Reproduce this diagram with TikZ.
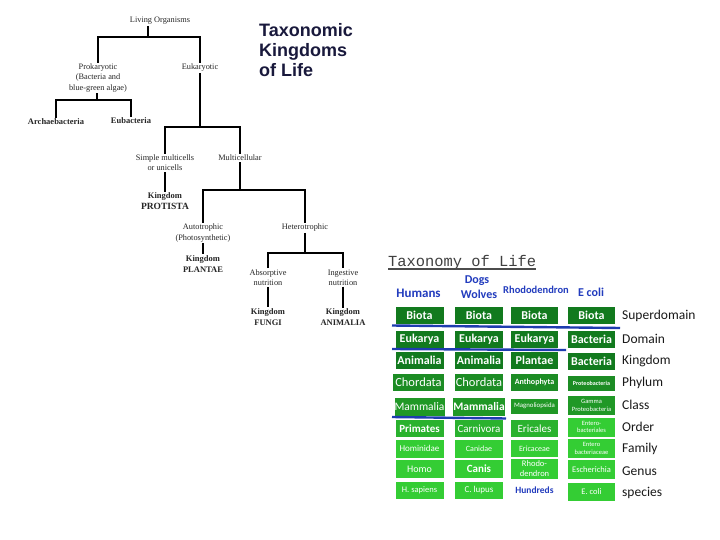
\documentclass[tikz,border=0pt]{standalone}
\usepackage{fontspec}
\usetikzlibrary{calc}
\newfontfamily\carl{Carlito}
\newfontfamily\arialf{Liberation Sans}
\newfontfamily\timesf{Liberation Serif}
\newfontfamily\monof{Liberation Mono}
\definecolor{gA}{RGB}{18,122,30}
\definecolor{gB}{RGB}{28,140,36}
\definecolor{gC}{RGB}{32,152,38}
\definecolor{gD}{RGB}{42,178,46}
\definecolor{gE}{RGB}{52,205,52}
\definecolor{hblue}{RGB}{34,60,190}
\definecolor{lblue}{RGB}{30,60,175}
\definecolor{navy}{RGB}{25,25,60}
\tikzset{
  tt/.style={font=\timesf\fontsize{8.3}{10.3}\selectfont, align=center, inner sep=1pt, text=black!85},
  ttb/.style={tt, font=\timesf\bfseries\fontsize{8.5}{11}\selectfont},
  tl/.style={draw=black, line width=2.1pt},
  bx/.style={minimum width=48, minimum height=17, inner sep=0, text=white, align=center,
     font=\carl\bfseries\fontsize{12}{12}\selectfont},
  fb/.style={font=\carl\bfseries\fontsize{#1}{#1}\selectfont},
  fr/.style={font=\carl\fontsize{#1}{#1}\selectfont},
  fm/.style 2 args={font=\carl\fontsize{#1}{#2}\selectfont},
  hd/.style={text=hblue, inner sep=0, font=\carl\bfseries\fontsize{#1}{#1}\selectfont},
  rk/.style={anchor=west, inner sep=0, text=black!90, font=\carl\fontsize{13.5}{13.5}\selectfont},
  bl/.style={draw=lblue, line width=2.4pt},
  ttl/.style={anchor=base west, inner sep=0, text=navy, font=\arialf\bfseries\fontsize{18}{20}\selectfont}
}
\begin{document}
\begin{tikzpicture}[x=1pt,y=-1pt]
\useasboundingbox[fill=white] (0,0) rectangle (720,540);

% ---------- left tree ----------
\node[tt] (living) at (160,21) {Living Organisms};
\node[tt] (pro) at (98,78) {Prokaryotic\\(Bacteria and\\blue-green algae)};
\node[tt] (euk) at (200,68) {Eukaryotic};
\node[ttb] (arch) at (56,122) {Archaebacteria};
\node[ttb] (eub) at (131,121) {Eubacteria};
\node[tt] (simple) at (165,163) {Simple multicells\\or unicells};
\node[tt] (multi) at (240,158) {Multicellular};
\node[ttb] (protista) at (165,201.5) {Kingdom\\{\fontsize{9.5}{11}\selectfont PROTISTA}};
\node[tt] (auto) at (203,233) {Autotrophic\\(Photosynthetic)};
\node[tt] (hetero) at (305,228) {Heterotrophic};
\node[ttb] (plantae) at (203,264) {Kingdom\\PLANTAE};
\node[tt] (absorb) at (268,277.5) {Absorptive\\nutrition};
\node[tt] (ingest) at (343,277.5) {Ingestive\\nutrition};
\node[ttb] (fungi) at (268,317) {Kingdom\\FUNGI};
\node[ttb] (animalia) at (343,317.5) {Kingdom\\ANIMALIA};

\coordinate (j1) at (148,37);
\coordinate (j2) at (97,100);
\coordinate (j3) at (200,127);
\coordinate (j4) at (240,190);
\coordinate (j5) at (305,253);

\draw[tl] (living.south -| j1) -- (j1);
\draw[tl] (pro.north) |- (j1) -| (euk.north);
\draw[tl] (pro.south -| j2) -- (j2);
\draw[tl] (arch.north) |- (j2) -| (eub.north);
\draw[tl] (euk.south) -- (j3);
\draw[tl] (simple.north) |- (j3) -| (multi.north);
\draw[tl] (simple.south) -- (protista.north);
\draw[tl] (multi.south) -- (j4);
\draw[tl] (auto.north) |- (j4) -| (hetero.north);
\draw[tl] (auto.south) -- (plantae.north);
\draw[tl] (hetero.south) -- (j5);
\draw[tl] (absorb.north) |- (j5) -| (ingest.north);
\draw[tl, line width=1.3pt] (absorb.south) -- (fungi.north);
\draw[tl] (ingest.south) -- (animalia.north);

% ---------- title ----------
\node[ttl] (t1) at (259,37) {Taxonomic};
\node[ttl] (t2) at (259,57) {Kingdoms};
\node[ttl] (t3) at (259,77) {of Life};

% ---------- taxonomy table ----------
\node[anchor=base west, inner sep=0, text=black!75, font=\monof\fontsize{15.4}{16}\selectfont] (tol) at (388,266) {Taxonomy of Life};
\draw[black!70, line width=1.1pt] ($(tol.base west)+(0,3)$) -- ($(tol.base east)+(0,3)$);

\node[hd=13] (hum) at (418.5,293.5) {Humans};
\node[hd=12] (dog) at (477,281) {Dogs};
\node[hd=12] (wol) at (479,294) {Wolves};
\node[hd=10.5] (rho) at (536,290) {Rhododendron};
\node[hd=12] (eco) at (591,292) {E coli};

% column 1
\node[bx, fill=gA] (a1) at (419.5,315) {Biota};
\node[bx, fill=gA] (a2) at (419.5,339.5) {Eukarya};
\node[bx, fill=gA] (a3) at (419.5,360.5) {Animalia};
\node[bx, fill=gB, fr=12.5, minimum width=51] (a4) at (418.5,382.5) {Chordata};
\node[bx, fill=gC, fr=11.5, minimum height=18, minimum width=50] (a5) at (419.5,407) {Mammalia};
\node[bx, fill=gD, fb=11] (a6) at (419.5,428.5) {Primates};
\node[bx, fill=gE, fr=9, minimum height=18] (a7) at (419.5,448.5) {Hominidae};
\node[bx, fill=gE, fr=10, minimum height=18] (a8) at (419.5,469) {Homo};
\node[bx, fill=gE, fr=8.5, minimum height=17] (a9) at (419.5,490) {H. sapiens};

% column 2
\node[bx, fill=gA] (b1) at (479,315) {Biota};
\node[bx, fill=gA] (b2) at (479,339.5) {Eukarya};
\node[bx, fill=gA] (b3) at (479,360.5) {Animalia};
\node[bx, fill=gB, fr=12.5] (b4) at (479,382.5) {Chordata};
\node[bx, fill=gC, fb=11.5, minimum height=18] (b5) at (479,407) {Mammalia};
\node[bx, fill=gD, fr=11] (b6) at (479,428.5) {Carnivora};
\node[bx, fill=gE, fr=8, minimum height=18] (b7) at (479,448.5) {Canidae};
\node[bx, fill=gE, fb=11, minimum height=18] (b8) at (479,469) {Canis};
\node[bx, fill=gE, fr=9, minimum height=17] (b9) at (479,490) {C. lupus};

% column 3
\node[bx, fill=gA, minimum width=47] (c1) at (534.5,315) {Biota};
\node[bx, fill=gA, minimum width=47] (c2) at (534.5,339.5) {Eukarya};
\node[bx, fill=gA, minimum width=47] (c3) at (534.5,360.5) {Plantae};
\node[bx, fill=gB, fb=8, minimum width=47] (c4) at (534.5,382.5) {Anthophyta};
\node[bx, fill=gC, fr=6.8, minimum width=47, minimum height=15] (c5) at (534.5,406) {Magnoliopsida};
\node[bx, fill=gD, fr=11, minimum width=47] (c6) at (534.5,428.5) {Ericales};
\node[bx, fill=gE, fr=8, minimum width=47, minimum height=17] (c7) at (534.5,448.5) {Ericaceae};
\node[bx, fill=gE, fm={8.5}{9.5}, minimum width=47, minimum height=20] (c8) at (534.5,468.5) {Rhodo-\\dendron};
\node[hd=9.5] (c9) at (534.5,490) {Hundreds};

% column 4
\node[bx, fill=gA, minimum width=47] (d1) at (591.5,315.5) {Biota};
\node[bx, fill=gA, minimum width=47] (d2) at (591.5,339.5) {Bacteria};
\node[bx, fill=gA, minimum width=47] (d3) at (591.5,361) {Bacteria};
\node[bx, fill=gB, fb=6, minimum width=47, minimum height=15] (d4) at (591.5,383) {Proteobacteria};
\node[bx, fill=gC, fm={6.5}{7.5}, minimum width=47, minimum height=19] (d5) at (591.5,405.5) {Gamma\\Proteobacteria};
\node[bx, fill=gE, fm={6.5}{7.5}, minimum width=47, minimum height=19] (d6) at (591.5,427) {Entero-\\bacteriales};
\node[bx, fill=gE, fm={6.5}{7.5}, minimum width=47, minimum height=19] (d7) at (591.5,448.5) {Entero\\bacteriaceae};
\node[bx, fill=gE, fr=8.5, minimum width=47, minimum height=19] (d8) at (591.5,469.5) {Escherichia};
\node[bx, fill=gE, fr=8.5, minimum width=47, minimum height=18] (d9) at (591.5,492) {E. coli};

% rank labels
\node[rk] (r1) at (622,316) {Superdomain};
\node[rk] (r2) at (622,339) {Domain};
\node[rk] (r3) at (622,361) {Kingdom};
\node[rk] (r4) at (622,383) {Phylum};
\node[rk] (r5) at (622,405) {Class};
\node[rk] (r6) at (622,427) {Order};
\node[rk] (r7) at (622,449) {Family};
\node[rk] (r8) at (622,471) {Genus};
\node[rk] (r9) at (622,493) {species};

% blue separator lines
\draw[bl] (392,325.5) -- (620,328);
\draw[bl] (392,349) -- (566,350);
\draw[bl] (392,417) -- (506,418.5);
\end{tikzpicture}
\end{document}
